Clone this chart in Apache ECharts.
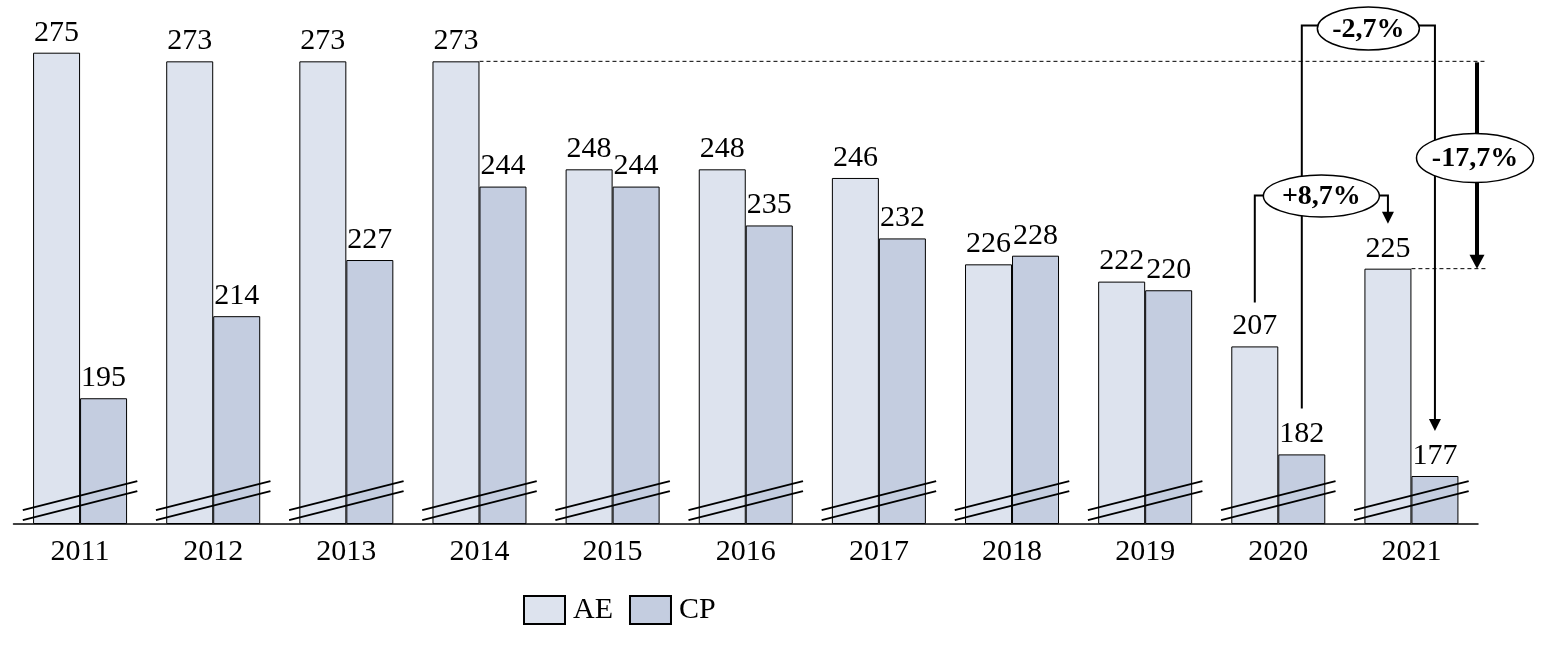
<!DOCTYPE html>
<html>
<head>
<meta charset="utf-8">
<script src="https://cdn.jsdelivr.net/npm/echarts@6/dist/echarts.min.js"></script>
<style>
html,body{margin:0;padding:0;background:#fff;}
#chart{width:1541px;height:648px;}
</style>
</head>
<body>
<div id="chart"></div>
<script>
// ---- data ----
const categories = ['2011','2012','2013','2014','2015','2016','2017','2018','2019','2020','2021'];
const aeValues = [275, 273, 273, 273, 248, 248, 246, 226, 222, 207, 225];
const cpValues = [195, 214, 227, 244, 244, 235, 232, 228, 220, 182, 177];
const seriesNames = ['AE', 'CP'];
const breakValue = 171.3;           // y value where the axis-break marks sit
const changeTotal = '-17,7%';       // AE 2014 -> AE 2021
const changeAE = '+8,7%';           // AE 2020 -> AE 2021
const changeCP = '-2,7%';           // CP 2020 -> CP 2021

// ---- styling ----
const FONT = '"Liberation Serif", "DejaVu Serif", serif';
const AE_COLOR = '#dde3ee';
const CP_COLOR = '#c4cde0';
const BAR_W = 47;

const chart = echarts.init(document.getElementById('chart'), null, {renderer: 'canvas'});

const labelStyle = {show: true, position: 'top', distance: 5, color: '#000', fontFamily: FONT, fontSize: 30};

chart.setOption({
  animation: false,
  backgroundColor: '#fff',
  grid: {left: 13.5, right: 63, top: 9.5, bottom: 124.5, containLabel: false},
  legend: {
    data: seriesNames, left: 523, top: 595, padding: 0, itemWidth: 41, itemHeight: 28, itemGap: 16,
    icon: 'rect',
    textStyle: {fontFamily: FONT, fontSize: 30, color: '#000', padding: [0, 0, 0, 3]}
  },
  xAxis: {
    type: 'category', data: categories,
    axisLine: {lineStyle: {color: '#000', width: 1.5}},
    axisTick: {show: false},
    axisLabel: {color: '#000', fontFamily: FONT, fontSize: 30, margin: 14}
  },
  yAxis: {type: 'value', min: 166, max: 285, show: false, splitLine: {show: false}},
  series: [
    {
      name: 'AE', type: 'bar', data: aeValues, barWidth: BAR_W, barGap: '0%',
      itemStyle: {color: AE_COLOR, borderColor: '#000', borderWidth: 1},
      label: labelStyle
    },
    {
      name: 'CP', type: 'bar', data: cpValues, barWidth: BAR_W, barGap: '0%',
      itemStyle: {color: CP_COLOR, borderColor: '#000', borderWidth: 1},
      label: labelStyle
    },
    {
      name: 'break', type: 'custom', silent: true, z: 5,
      data: categories.map((c, i) => [i, breakValue]),
      renderItem: function (params, api) {
        const p = api.coord([api.value(0), api.value(1)]);
        const band = api.size([1, 0])[0];
        const h = band * 0.43, rise = 14.5, off = 5;
        const mk = (dy) => ({
          type: 'line',
          shape: {x1: p[0] - h, y1: p[1] + dy + rise, x2: p[0] + h, y2: p[1] + dy - rise},
          style: {stroke: '#000', lineWidth: 2}
        });
        return {type: 'group', children: [mk(off), mk(-off)]};
      }
    }
  ]
});

// ---- annotations computed from data positions ----
function addAnnotations() {
  const px = (i, v) => chart.convertToPixel({xAxisIndex: 0, yAxisIndex: 0}, [i, v]);
  const half = BAR_W / 2;
  const i14 = categories.indexOf('2014'), i20 = categories.indexOf('2020'), i21 = categories.indexOf('2021');
  const gridRight = px(categories.length - 1, 166)[0] + chart.getModel().getComponent('xAxis', 0).axis.getBandWidth() / 2;

  const p14 = px(i14, aeValues[i14]);
  const p21ae = px(i21, aeValues[i21]);
  const p20ae = px(i20, aeValues[i20]);
  const p20cp = px(i20, cpValues[i20]);
  const p21cp = px(i21, cpValues[i21]);

  const dashEnd = gridRight + 9;
  const arrowX = gridRight - 1;
  const labelClear = 45;   // gap above bar top to clear the value label
  const els = [];
  const line = (pts, w, dash) => els.push({
    type: 'polyline', z: 100, shape: {points: pts},
    style: {stroke: '#000', lineWidth: w, fill: null, lineDash: dash || null}
  });
  const head = (x, y, w, hgt) => els.push({
    type: 'polygon', z: 101, shape: {points: [[x - w / 2, y - hgt], [x + w / 2, y - hgt], [x, y]]},
    style: {fill: '#000', stroke: null}
  });
  const badge = (cx, cy, rx, ry, txt) => {
    els.push({type: 'ellipse', z: 110, shape: {cx: cx, cy: cy, rx: rx, ry: ry},
      style: {fill: '#fff', stroke: '#000', lineWidth: 1.5}});
    els.push({type: 'text', z: 120, x: cx, y: cy + 1,
      style: {text: txt, fill: '#000', font: 'bold 28px ' + FONT, align: 'center', verticalAlign: 'middle'}});
  };

  // total change AE 2014 -> 2021 (AE bar right edge = category centre)
  line([[p14[0], p14[1]], [dashEnd, p14[1]]], 1, [4, 3]);
  line([[p21ae[0], p21ae[1]], [dashEnd, p21ae[1]]], 1, [4, 3]);
  line([[arrowX, p14[1] + 1], [arrowX, p21ae[1] - 12]], 4);
  head(arrowX, p21ae[1], 15, 14);
  badge(arrowX - 2, (p14[1] + p21ae[1]) / 2 - 7, 58.5, 24.5, changeTotal);

  // AE 2020 -> 2021 bracket
  const aeL = p20ae[0] - half, aeR = p21ae[0] - half, aeTop = 195.5;
  line([[aeL, p20ae[1] - labelClear + 1], [aeL, aeTop], [aeR, aeTop], [aeR, p21ae[1] - labelClear - 10]], 2);
  head(aeR, p21ae[1] - labelClear, 12, 12);

  // CP 2020 -> 2021 bracket
  const cpL = p20cp[0] + half, cpR = p21cp[0] + half, cpTop = 25.5;
  line([[cpL, p20cp[1] - labelClear - 1], [cpL, cpTop], [cpR, cpTop], [cpR, p21cp[1] - labelClear - 10]], 2);
  head(cpR, p21cp[1] - labelClear, 12, 12);

  badge((aeL + aeR) / 2, aeTop + 0.5, 58, 21, changeAE);
  badge((cpL + cpR) / 2, cpTop + 3, 51, 21.5, changeCP);

  chart.setOption({graphic: {elements: els}});
}
addAnnotations();
</script>
</body>
</html>
